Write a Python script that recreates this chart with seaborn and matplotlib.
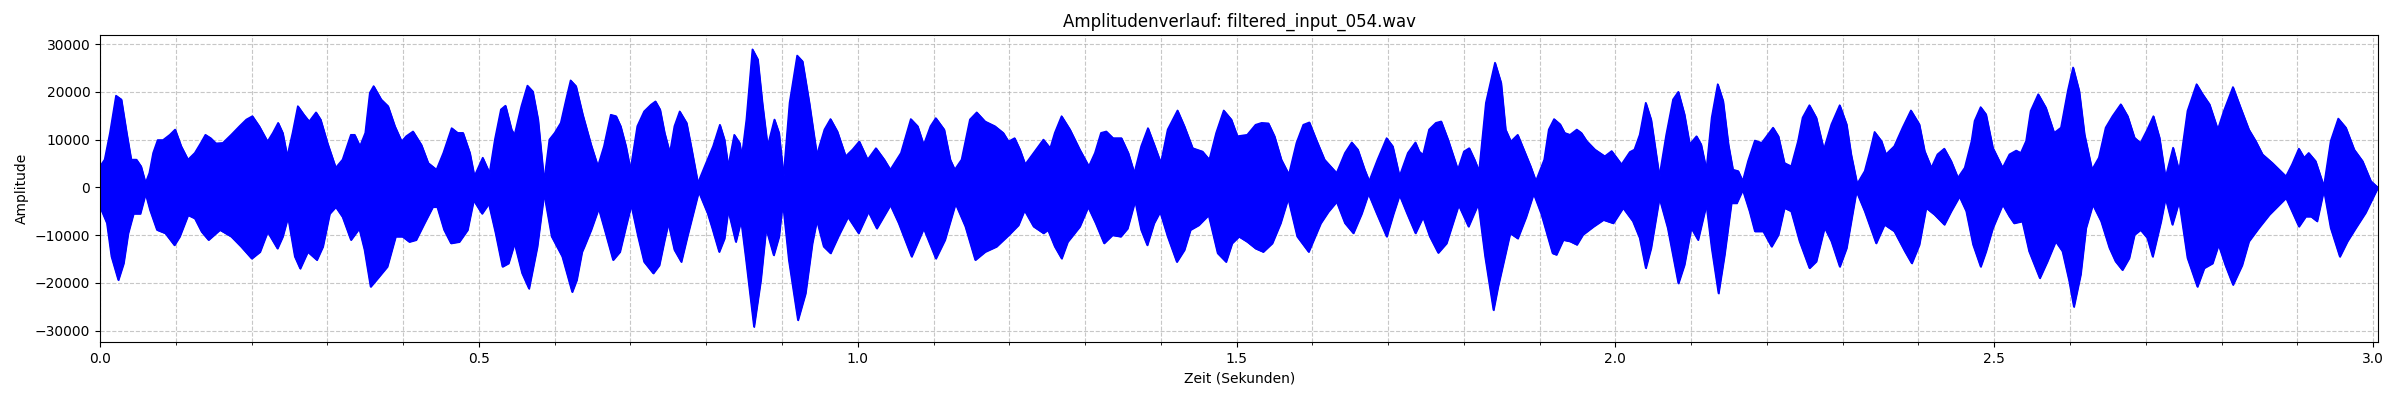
import numpy as np
import matplotlib
matplotlib.use("Agg")
import matplotlib.pyplot as plt
from matplotlib.ticker import MultipleLocator
import pandas as pd
import seaborn as sns

# envelope of the waveform (seconds, amplitude)
upper_time = [
    0.000, 0.006, 0.013, 0.021, 0.028, 0.035, 0.041, 0.048, 0.054, 0.060,
    0.065, 0.070, 0.076, 0.083, 0.092, 0.099, 0.107, 0.116, 0.125, 0.133,
    0.139, 0.146, 0.153, 0.162, 0.173, 0.184, 0.193, 0.201, 0.210, 0.221,
    0.228, 0.235, 0.241, 0.247, 0.254, 0.261, 0.269, 0.276, 0.285, 0.291,
    0.300, 0.311, 0.320, 0.331, 0.336, 0.343, 0.350, 0.356, 0.361, 0.371,
    0.380, 0.389, 0.398, 0.404, 0.413, 0.424, 0.433, 0.444, 0.453, 0.464,
    0.472, 0.479, 0.488, 0.494, 0.505, 0.514, 0.521, 0.529, 0.535, 0.543,
    0.547, 0.556, 0.564, 0.571, 0.578, 0.586, 0.593, 0.600, 0.608, 0.615,
    0.621, 0.628, 0.637, 0.648, 0.657, 0.665, 0.674, 0.681, 0.687, 0.694,
    0.700, 0.709, 0.718, 0.727, 0.733, 0.739, 0.745, 0.752, 0.758, 0.765,
    0.774, 0.780, 0.789, 0.798, 0.809, 0.818, 0.824, 0.829, 0.837, 0.844,
    0.847, 0.853, 0.861, 0.868, 0.874, 0.881, 0.890, 0.896, 0.902, 0.910,
    0.920, 0.927, 0.936, 0.946, 0.956, 0.964, 0.973, 0.984, 0.993, 1.002,
    1.013, 1.024, 1.035, 1.043, 1.057, 1.070, 1.079, 1.087, 1.096, 1.103,
    1.114, 1.122, 1.128, 1.137, 1.148, 1.157, 1.168, 1.181, 1.192, 1.199,
    1.207, 1.214, 1.221, 1.232, 1.245, 1.254, 1.260, 1.269, 1.280, 1.293,
    1.305, 1.313, 1.321, 1.328, 1.337, 1.348, 1.357, 1.365, 1.374, 1.383,
    1.392, 1.400, 1.409, 1.422, 1.431, 1.442, 1.455, 1.464, 1.473, 1.483,
    1.493, 1.501, 1.514, 1.525, 1.533, 1.542, 1.550, 1.559, 1.569, 1.579,
    1.588, 1.596, 1.605, 1.616, 1.632, 1.643, 1.652, 1.660, 1.669, 1.675,
    1.686, 1.698, 1.706, 1.715, 1.726, 1.736, 1.741, 1.746, 1.754, 1.763,
    1.770, 1.779, 1.792, 1.800, 1.807, 1.814, 1.820, 1.829, 1.841, 1.849,
    1.855, 1.862, 1.871, 1.879, 1.888, 1.895, 1.906, 1.912, 1.919, 1.927,
    1.933, 1.940, 1.949, 1.955, 1.962, 1.973, 1.986, 1.995, 2.008, 2.019,
    2.025, 2.032, 2.040, 2.047, 2.058, 2.067, 2.076, 2.083, 2.091, 2.098,
    2.107, 2.113, 2.120, 2.127, 2.135, 2.142, 2.149, 2.155, 2.162, 2.168,
    2.175, 2.184, 2.193, 2.201, 2.208, 2.215, 2.223, 2.232, 2.241, 2.247,
    2.256, 2.265, 2.275, 2.285, 2.296, 2.305, 2.311, 2.319, 2.329, 2.336,
    2.342, 2.351, 2.357, 2.368, 2.379, 2.390, 2.401, 2.408, 2.417, 2.425,
    2.434, 2.443, 2.452, 2.461, 2.470, 2.474, 2.482, 2.489, 2.498, 2.511,
    2.520, 2.529, 2.535, 2.542, 2.548, 2.558, 2.568, 2.579, 2.588, 2.597,
    2.604, 2.612, 2.619, 2.629, 2.638, 2.647, 2.656, 2.667, 2.676, 2.685,
    2.693, 2.702, 2.710, 2.718, 2.726, 2.736, 2.744, 2.755, 2.767, 2.775,
    2.784, 2.795, 2.803, 2.815, 2.825, 2.836, 2.845, 2.854, 2.867, 2.885,
    2.893, 2.902, 2.909, 2.915, 2.924, 2.935, 2.944, 2.954, 2.964, 2.975,
    2.986, 2.997, 3.006,
]
upper_amp = [
    4400, 5800, 11400, 19200, 18400, 11400, 5800, 5800, 4400, 900,
    3000, 7200, 9900, 9900, 11000, 12100, 8600, 5800, 7200, 9300,
    11000, 10300, 9200, 9300, 11000, 12800, 14200, 14900, 12800, 9600,
    11400, 13500, 11400, 6500, 11400, 17000, 15200, 13800, 15700, 14200,
    9300, 4100, 5800, 11000, 11000, 8600, 11400, 19800, 21200, 18400,
    17000, 12800, 9600, 10700, 11700, 8900, 5100, 3700, 7200, 12400,
    11400, 11400, 7200, 2300, 6200, 3000, 10000, 16300, 17100, 12100,
    11000, 17000, 21300, 20100, 14200, 1300, 10000, 11400, 13500, 18400,
    22400, 21200, 15200, 8900, 4400, 8600, 15200, 14900, 12800, 8600,
    3700, 12800, 15900, 17300, 18000, 16300, 11400, 7200, 12800, 15900,
    13500, 8600, 900, 4400, 8600, 13100, 10000, 4400, 11000, 9300,
    6500, 14200, 28900, 26800, 17700, 8600, 14200, 11400, 2300, 17700,
    27600, 26400, 17700, 6800, 12100, 14300, 11700, 6500, 7900, 9600,
    5800, 8200, 5800, 3700, 7200, 14300, 12800, 8900, 12800, 14500,
    12100, 5800, 3700, 5800, 14200, 15700, 13800, 12800, 11400, 9600,
    10300, 7900, 4800, 7200, 10000, 8200, 11400, 14900, 12100, 7900,
    4400, 7200, 11400, 11700, 10300, 10300, 7200, 3000, 8600, 12400,
    8600, 5100, 12100, 16100, 12800, 8200, 7500, 5800, 11400, 16100,
    14200, 10700, 11000, 13100, 13500, 13400, 10700, 5800, 2700, 9300,
    13100, 13600, 10000, 5800, 3000, 7200, 9400, 7900, 3700, 1300,
    5800, 10300, 8600, 2300, 7200, 9400, 7500, 6800, 12100, 13500,
    13800, 10000, 3700, 7500, 8200, 5800, 3400, 17700, 26100, 21900,
    12100, 9600, 11000, 7900, 4400, 1300, 5800, 12100, 14300, 13200,
    11400, 11000, 12100, 11400, 9700, 7900, 6500, 7600, 4800, 7400,
    7900, 11000, 17700, 14200, 2300, 11000, 18400, 20000, 15300, 9000,
    10700, 9000, 3700, 14600, 21600, 18100, 9000, 3700, 3400, 1300,
    5500, 9800, 9300, 11000, 12500, 10700, 5100, 4400, 9700, 14600,
    17200, 14600, 7900, 13200, 17200, 13200, 6900, 700, 3400, 7600,
    11600, 9700, 6900, 8600, 12500, 16100, 13200, 7600, 4100, 6900,
    8100, 5500, 2000, 4100, 9700, 13900, 16800, 15300, 8300, 4100,
    6900, 7700, 7200, 9700, 16000, 19500, 16700, 11400, 12500, 20200,
    25100, 20200, 11100, 3700, 6200, 12500, 14900, 17400, 14900, 10400,
    9300, 12100, 14900, 10400, 2000, 8300, 3400, 16000, 21600, 19500,
    17400, 12100, 16000, 21000, 16700, 12100, 9700, 6900, 5100, 2300,
    4800, 8100, 6200, 7200, 5500, 200, 9700, 14400, 12500, 7900,
    5500, 1300, 0,
]

lower_time = [
    0.000, 0.009, 0.015, 0.024, 0.031, 0.037, 0.044, 0.053, 0.060, 0.066,
    0.075, 0.086, 0.098, 0.105, 0.116, 0.125, 0.134, 0.143, 0.158, 0.173,
    0.186, 0.200, 0.211, 0.221, 0.234, 0.241, 0.248, 0.257, 0.264, 0.274,
    0.286, 0.294, 0.303, 0.311, 0.320, 0.331, 0.342, 0.349, 0.357, 0.366,
    0.379, 0.390, 0.399, 0.408, 0.417, 0.428, 0.439, 0.445, 0.454, 0.463,
    0.474, 0.485, 0.493, 0.504, 0.513, 0.522, 0.531, 0.539, 0.547, 0.557,
    0.566, 0.577, 0.586, 0.596, 0.610, 0.623, 0.629, 0.636, 0.639, 0.648,
    0.658, 0.666, 0.677, 0.686, 0.694, 0.701, 0.710, 0.718, 0.730, 0.738,
    0.745, 0.750, 0.758, 0.767, 0.775, 0.790, 0.802, 0.808, 0.817, 0.824,
    0.829, 0.839, 0.846, 0.852, 0.863, 0.872, 0.879, 0.889, 0.896, 0.901,
    0.909, 0.921, 0.931, 0.940, 0.946, 0.955, 0.964, 0.975, 0.987, 1.001,
    1.014, 1.025, 1.043, 1.054, 1.071, 1.087, 1.103, 1.115, 1.129, 1.142,
    1.155, 1.168, 1.183, 1.199, 1.212, 1.220, 1.232, 1.245, 1.251, 1.260,
    1.269, 1.277, 1.293, 1.304, 1.314, 1.325, 1.336, 1.347, 1.356, 1.366,
    1.374, 1.382, 1.391, 1.399, 1.409, 1.421, 1.431, 1.439, 1.450, 1.463,
    1.475, 1.486, 1.494, 1.503, 1.514, 1.525, 1.535, 1.547, 1.558, 1.568,
    1.580, 1.595, 1.611, 1.621, 1.632, 1.643, 1.654, 1.665, 1.674, 1.685,
    1.698, 1.707, 1.715, 1.725, 1.736, 1.746, 1.755, 1.766, 1.777, 1.793,
    1.806, 1.819, 1.828, 1.839, 1.845, 1.854, 1.861, 1.871, 1.882, 1.892,
    1.902, 1.917, 1.922, 1.931, 1.940, 1.949, 1.957, 1.971, 1.984, 1.997,
    2.010, 2.023, 2.032, 2.040, 2.047, 2.058, 2.069, 2.083, 2.091, 2.100,
    2.109, 2.120, 2.127, 2.136, 2.144, 2.153, 2.160, 2.168, 2.177, 2.184,
    2.195, 2.206, 2.215, 2.223, 2.232, 2.243, 2.256, 2.265, 2.276, 2.285,
    2.296, 2.305, 2.318, 2.329, 2.344, 2.355, 2.368, 2.382, 2.391, 2.401,
    2.410, 2.421, 2.434, 2.443, 2.454, 2.463, 2.472, 2.482, 2.489, 2.498,
    2.511, 2.520, 2.526, 2.537, 2.546, 2.560, 2.570, 2.581, 2.590, 2.599,
    2.605, 2.614, 2.621, 2.630, 2.641, 2.652, 2.660, 2.669, 2.678, 2.685,
    2.693, 2.702, 2.709, 2.720, 2.726, 2.735, 2.744, 2.755, 2.768, 2.777,
    2.788, 2.796, 2.805, 2.815, 2.827, 2.836, 2.849, 2.863, 2.885, 2.893,
    2.902, 2.911, 2.918, 2.926, 2.935, 2.944, 2.956, 2.966, 2.977, 2.990,
    3.006,
]
lower_amp = [
    -4100, -7500, -14500, -19400, -15900, -9600, -5500, -5500, -1300, -4800,
    -8900, -9600, -12100, -10300, -5800, -6500, -9300, -11000, -8900, -10300,
    -12400, -14900, -13500, -9300, -12800, -10300, -6200, -14500, -17000, -13500,
    -15200, -12400, -5500, -4100, -6200, -11000, -8600, -13100, -20800, -19100,
    -16600, -10300, -10300, -11400, -11000, -7500, -4100, -4100, -8900, -11700,
    -11400, -8900, -2700, -5500, -3400, -9600, -16600, -15900, -11700, -18000,
    -21200, -12400, -1300, -10300, -14500, -21900, -19400, -13500, -12400, -8900,
    -4400, -8900, -15200, -13500, -8200, -3700, -10300, -15600, -18000, -16300,
    -11000, -7500, -13100, -15600, -10300, -900, -5500, -8600, -13500, -10700,
    -4800, -11400, -6900, -14500, -29200, -19400, -8600, -14200, -10300, -3000,
    -15200, -27800, -22200, -11700, -6900, -12400, -13800, -10000, -6200, -9600,
    -5100, -8600, -3700, -7500, -14500, -8600, -14900, -11000, -3400, -8200,
    -15200, -13500, -12400, -10000, -7900, -4800, -8200, -9600, -8900, -12400,
    -14900, -11400, -8200, -4100, -7500, -11700, -10000, -10300, -8600, -2800,
    -8900, -12100, -7500, -5100, -10300, -15600, -13100, -8900, -7900, -5800,
    -13800, -15600, -11700, -10300, -11400, -12800, -13500, -11700, -7500, -2300,
    -10300, -13500, -7500, -5100, -3000, -7500, -9600, -5500, -1300, -5500,
    -10300, -5500, -1600, -5500, -9600, -6200, -10300, -13700, -11700, -3700,
    -8200, -3400, -14500, -25700, -20800, -14500, -9600, -10700, -6200, -1300,
    -5500, -13800, -14100, -11000, -11300, -12000, -9900, -8200, -6800, -7500,
    -4300, -7100, -10600, -16900, -12700, -2200, -8500, -20100, -16200, -8500,
    -11000, -3600, -12700, -22200, -14100, -3300, -3300, -500, -5000, -9200,
    -9200, -12400, -9900, -4300, -5000, -11300, -16900, -15500, -8400, -11300,
    -16600, -12700, -800, -5000, -11700, -7800, -9200, -13400, -15900, -12000,
    -4300, -5700, -7800, -5000, -1900, -5000, -12000, -16600, -13400, -8500,
    -3600, -6100, -7500, -7100, -13400, -19000, -15500, -11300, -13400, -19700,
    -25000, -18200, -8500, -3600, -7100, -12700, -15500, -17300, -14800, -9900,
    -8900, -10600, -14500, -7100, -2200, -7800, -2900, -14800, -20800, -16900,
    -15900, -12000, -16300, -20400, -16300, -11300, -8500, -5700, -2200, -5000,
    -8200, -6100, -6100, -7100, -500, -8500, -14500, -11300, -8500, -5300,
    -100,
]

title = "Amplitudenverlauf: filtered_input_054.wav"
duration = 3.007

upper = pd.DataFrame({"Zeit": upper_time, "Amplitude": upper_amp})
lower = pd.DataFrame({"Zeit": lower_time, "Amplitude": lower_amp})

fig, ax = plt.subplots(figsize=(24, 4), dpi=100)

# fill both halves of the envelope; edge lines hide the seam along zero
ax.fill_between(upper["Zeit"], 0, upper["Amplitude"], facecolor="blue",
                edgecolor="blue", linewidth=1)
ax.fill_between(lower["Zeit"], lower["Amplitude"], 0, facecolor="blue",
                edgecolor="blue", linewidth=1)
sns.lineplot(data=upper, x="Zeit", y="Amplitude", color="blue", linewidth=1.2,
             estimator=None, sort=False, ax=ax)
sns.lineplot(data=lower, x="Zeit", y="Amplitude", color="blue", linewidth=1.2,
             estimator=None, sort=False, ax=ax)

ax.set_xlim(0, duration)
ax.set_ylim(-32400, 31900)
ax.xaxis.set_major_locator(MultipleLocator(0.5))
ax.xaxis.set_minor_locator(MultipleLocator(0.1))
ax.grid(True, which="both", axis="x", linestyle="--", alpha=0.7)
ax.grid(True, which="major", axis="y", linestyle="--", alpha=0.7)
ax.set_axisbelow(True)

ax.set_title(title)
ax.set_xlabel("Zeit (Sekunden)")
ax.set_ylabel("Amplitude")

fig.subplots_adjust(left=0.0417, right=0.991, top=0.9125, bottom=0.145)
fig.savefig("out.png")
